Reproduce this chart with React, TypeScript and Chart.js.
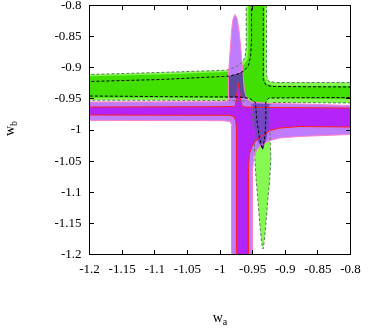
import React, { useEffect, useRef } from 'react';
import { Chart, registerables } from 'chart.js';

Chart.register(...registerables);

type Pt = [number, number];

// ---- axes ----
const xTickValues = [-1.2, -1.15, -1.1, -1.05, -1, -0.95, -0.9, -0.85, -0.8];
const xTickLabels = ['-1.2', '-1.15', '-1.1', '-1.05', '-1', '-0.95', '-0.9', '-0.85', '-0.8'];
const yTickValues = [-1.2, -1.15, -1.1, -1.05, -1, -0.95, -0.9, -0.85, -0.8];
const yTickLabels = ['-1.2', '-1.15', '-1.1', '-1.05', '-1', '-0.95', '-0.9', '-0.85', '-0.8'];
const xTitle = ['w', 'a'];
const yTitle = ['w', 'b'];

// ---- contours (w_a, w_b) ----
// green, 2 sigma (light green, grey dashed edge)
const green2: Pt[] = [
  [-1.22, -0.9105], [-1.2, -0.9108], [-1.0916, -0.9076], [-0.9898, -0.9039], [-0.9756, -0.8988],
  [-0.9664, -0.8916], [-0.9618, -0.8835], [-0.9598, -0.8675], [-0.9598, -0.8], [-0.9598, -0.78],
  [-0.9287, -0.78], [-0.9287, -0.8], [-0.9287, -0.9124], [-0.926, -0.9213], [-0.916, -0.9237],
  [-0.8, -0.9237], [-0.78, -0.9237], [-0.78, -0.9566], [-0.8, -0.9566], [-0.8779, -0.9561],
  [-0.9206, -0.9558], [-0.9244, -0.9606], [-0.924, -0.9912], [-0.9229, -1.0233], [-0.9221, -1.0474],
  [-0.9237, -1.0795], [-0.9267, -1.1116], [-0.9298, -1.1518], [-0.9324, -1.1807], [-0.934, -1.1912],
  [-0.9362, -1.1807], [-0.9389, -1.1518], [-0.942, -1.1116], [-0.9446, -1.0795], [-0.9466, -1.0474],
  [-0.9473, -1.0233], [-0.9496, -0.9912], [-0.9511, -0.9606], [-0.9557, -0.9534], [-0.9863, -0.9526],
  [-1.0916, -0.9523], [-1.2, -0.9521], [-1.22, -0.9521],
];
// green, 1 sigma (bright green)
const green1: Pt[] = [
  [-1.22, -0.9135], [-1.2, -0.9136], [-1.0916, -0.9108], [-0.9893, -0.9068], [-0.9725, -0.902],
  [-0.9634, -0.8948], [-0.958, -0.8867], [-0.9565, -0.8707], [-0.9565, -0.78], [-0.9313, -0.78],
  [-0.9321, -0.9157], [-0.9282, -0.9261], [-0.916, -0.929], [-0.78, -0.9293], [-0.78, -0.9507],
  [-0.8779, -0.9494], [-0.9267, -0.9486], [-0.9305, -0.9558], [-0.9511, -0.9558], [-0.9557, -0.9486],
  [-1.0916, -0.9483], [-1.22, -0.9483],
];
// black dashed contour
const blackDashed: Pt[] = [
  [-1.22, -0.9221], [-1.2, -0.9221], [-1.0916, -0.9189], [-0.9873, -0.9136], [-0.9725, -0.91],
  [-0.9634, -0.9052], [-0.9565, -0.8964], [-0.9531, -0.8819], [-0.9516, -0.8546], [-0.9516, -0.78],
  [-0.9336, -0.78], [-0.9336, -0.9189], [-0.9298, -0.9277], [-0.9206, -0.9301], [-0.8, -0.9309],
  [-0.78, -0.9309], [-0.78, -0.9478], [-0.8, -0.9478], [-0.8779, -0.9481], [-0.9252, -0.9486],
  [-0.9282, -0.9526], [-0.9298, -0.9558], [-0.9298, -0.9831], [-0.9313, -1.012], [-0.9347, -1.0313],
  [-0.9397, -1.012], [-0.9435, -0.9831], [-0.9458, -0.9558], [-0.9542, -0.9494], [-0.9695, -0.947],
  [-1.0916, -0.9463], [-1.2, -0.9454], [-1.22, -0.9454],
];
// purple, 2 sigma (light purple)
const purple2: Pt[] = [
  [-1.22, -0.955], [-0.9969, -0.9546], [-0.9885, -0.9534], [-0.9863, -0.9526], [-0.987, -0.9349],
  [-0.987, -0.9108], [-0.9855, -0.8867], [-0.9843, -0.8707], [-0.9821, -0.8386], [-0.9802, -0.8225],
  [-0.9771, -0.8145], [-0.974, -0.8209], [-0.971, -0.8386], [-0.9679, -0.8707], [-0.9669, -0.8867],
  [-0.9644, -0.9108], [-0.9629, -0.9349], [-0.9588, -0.951], [-0.9527, -0.955], [-0.9237, -0.9574],
  [-0.8779, -0.9582], [-0.8, -0.9606], [-0.78, -0.961], [-0.78, -1.0075], [-0.8, -1.0072],
  [-0.8779, -1.0104], [-0.9084, -1.0129], [-0.9237, -1.0169], [-0.9359, -1.0233], [-0.9435, -1.0313],
  [-0.9481, -1.0426], [-0.9501, -1.0635], [-0.9504, -1.1116], [-0.9507, -1.22], [-0.9824, -1.22],
  [-0.9824, -1.1116], [-0.9824, -1.0153], [-0.9824, -0.9912], [-0.9847, -0.9863], [-0.9969, -0.985],
  [-1.22, -0.9845],
];
// purple, 1 sigma (dark purple, red edge)
const purple1: Pt[] = [
  [-1.22, -0.9631], [-1.2, -0.9631], [-1.0, -0.9626], [-0.9802, -0.9622], [-0.9763, -0.9614],
  [-0.9748, -0.9478], [-0.9733, -0.9349], [-0.9721, -0.9245], [-0.9705, -0.9349], [-0.9687, -0.9478],
  [-0.9664, -0.9614], [-0.9603, -0.9631], [-0.9237, -0.9639], [-0.8, -0.9647], [-0.78, -0.9647],
  [-0.78, -0.9944], [-0.8, -0.9952], [-0.8779, -0.9944], [-0.9084, -0.9968], [-0.9237, -1.0008],
  [-0.9359, -1.0096], [-0.945, -1.0169], [-0.9511, -1.0265], [-0.955, -1.0394], [-0.9563, -1.0635],
  [-0.9566, -1.1116], [-0.9566, -1.22], [-0.9748, -1.22], [-0.9748, -0.9992], [-0.9756, -0.9863],
  [-0.9786, -0.9783], [-0.9863, -0.9764], [-1.2, -0.9759], [-1.22, -0.9759],
];
// overlaps (dark slate)
const overlapUpper: Pt[] = [
  [-0.987, -0.9136], [-0.9756, -0.9105], [-0.9649, -0.906], [-0.9629, -0.9349], [-0.9591, -0.9486],
  [-0.9682, -0.9483], [-0.9705, -0.9349], [-0.9721, -0.9245], [-0.9733, -0.9349], [-0.9751, -0.9481],
  [-0.9866, -0.9478],
];
const overlapLower: Pt[] = [
  [-0.9504, -0.9574], [-0.9481, -0.9912], [-0.9435, -1.0153], [-0.9347, -1.0313], [-0.929, -1.0153],
  [-0.9252, -0.9912], [-0.9244, -0.9574],
];

const FONT = "'Liberation Serif', 'Times New Roman', serif";

const frameAndTitles = {
  id: 'frameAndTitles',
  afterDatasetsDraw(chart: any) {
    const { ctx, chartArea: a, scales } = chart;
    const xs = scales.x;
    const ys = scales.y;
    ctx.save();
    ctx.strokeStyle = '#000';
    ctx.lineWidth = 1;
    ctx.setLineDash([]);
    ctx.strokeRect(a.left, a.top, a.right - a.left, a.bottom - a.top);
    const L = 4.5;
    ctx.beginPath();
    for (const v of xTickValues) {
      const p = Math.floor(xs.getPixelForValue(v)) + 0.5;
      ctx.moveTo(p, a.bottom); ctx.lineTo(p, a.bottom - L);
      ctx.moveTo(p, a.top); ctx.lineTo(p, a.top + L);
    }
    for (const v of yTickValues) {
      const p = Math.floor(ys.getPixelForValue(v)) + 0.5;
      ctx.moveTo(a.left, p); ctx.lineTo(a.left + L, p);
      ctx.moveTo(a.right, p); ctx.lineTo(a.right - L, p);
    }
    ctx.stroke();

    ctx.fillStyle = '#000';
    ctx.textBaseline = 'alphabetic';
    ctx.textAlign = 'left';
    // x title
    ctx.font = `14px ${FONT}`;
    const cx = (a.left + a.right) / 2;
    const w1 = ctx.measureText(xTitle[0]).width;
    ctx.font = `10px ${FONT}`;
    const w2 = ctx.measureText(xTitle[1]).width;
    const x0 = cx - (w1 + w2) / 2;
    ctx.font = `14px ${FONT}`;
    ctx.fillText(xTitle[0], x0, 322);
    ctx.font = `10px ${FONT}`;
    ctx.fillText(xTitle[1], x0 + w1, 324.5);
    // y title
    ctx.save();
    ctx.translate(14, (a.top + a.bottom) / 2 + 6);
    ctx.rotate(-Math.PI / 2);
    ctx.font = `14px ${FONT}`;
    const v1 = ctx.measureText(yTitle[0]).width;
    ctx.fillText(yTitle[0], 0, 0);
    ctx.font = `10px ${FONT}`;
    ctx.fillText(yTitle[1], v1, 2.5);
    ctx.restore();
    ctx.restore();
  },
};

const mk = (pts: Pt[], opts: any) => ({
  data: pts.map(([x, y]) => ({ x, y })),
  pointRadius: 0,
  pointHoverRadius: 0,
  tension: 0,
  clip: 0,
  fill: false,
  borderWidth: 1,
  borderColor: 'rgba(0,0,0,0)',
  backgroundColor: 'rgba(0,0,0,0)',
  borderJoinStyle: 'round',
  ...opts,
});

export default function App() {
  const ref = useRef<HTMLCanvasElement>(null);
  useEffect(() => {
    const tickFont = { family: FONT, size: 13 };
    const chart = new Chart(ref.current as HTMLCanvasElement, {
      type: 'line',
      data: {
        datasets: [
          mk(blackDashed, { borderColor: '#000', borderDash: [3, 2] }),
          mk(overlapLower, { fill: 'shape', backgroundColor: '#7446c4' }),
          mk(overlapUpper, { fill: 'shape', backgroundColor: '#5e4a9c' }),
          mk(purple1, { fill: 'shape', backgroundColor: '#b424fa', borderColor: '#ff1e1e' }),
          mk(purple2, { fill: 'shape', backgroundColor: '#c07cff', borderColor: '#ff80c8' }),
          mk(green1, { fill: 'shape', backgroundColor: '#42e000' }),
          mk(green2, { fill: 'shape', backgroundColor: '#86f852', borderColor: '#5a7a5a', borderDash: [3, 2] }),
        ] as any,
      },
      plugins: [frameAndTitles],
      options: {
        responsive: false,
        animation: false,
        events: [],
        layout: { padding: { left: 0, top: 5.5, right: 30.5, bottom: 0 } },
        plugins: {
          legend: { display: false },
          tooltip: { enabled: false },
          filler: { drawTime: 'beforeDatasetsDraw' },
        } as any,
        scales: {
          x: {
            type: 'linear',
            min: -1.2,
            max: -0.8,
            grid: { display: false, drawTicks: false },
            border: { display: false },
            afterBuildTicks: (s: any) => { s.ticks = xTickValues.map((value) => ({ value })); },
            afterFit: (s: any) => { s.height = 74.5; s.paddingLeft = 0; s.paddingRight = 0; },
            ticks: {
              callback: (_v: any, i: number) => xTickLabels[i],
              font: tickFont,
              color: '#000',
              padding: 7,
              maxRotation: 0,
              minRotation: 0,
              autoSkip: false,
            },
          },
          y: {
            type: 'linear',
            min: -1.2,
            max: -0.8,
            grid: { display: false, drawTicks: false },
            border: { display: false },
            afterBuildTicks: (s: any) => { s.ticks = yTickValues.map((value) => ({ value })); },
            afterFit: (s: any) => { s.width = 89.5; s.paddingTop = 0; s.paddingBottom = 0; },
            ticks: {
              callback: (_v: any, i: number) => yTickLabels[i],
              font: tickFont,
              color: '#000',
              padding: 8,
              autoSkip: false,
            },
          },
        } as any,
      },
    });
    return () => chart.destroy();
  }, []);
  return (
    <canvas
      ref={ref}
      width={381}
      height={329}
      style={{ position: 'fixed', left: 0, top: 0, width: 381, height: 329 }}
    />
  );
}
